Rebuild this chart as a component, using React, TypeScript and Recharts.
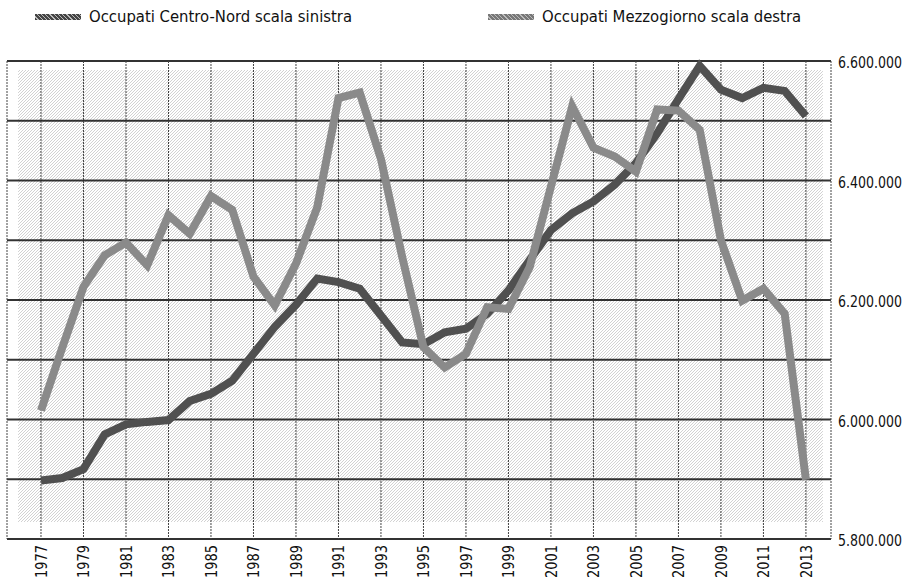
import React from 'react';
import {
  LineChart,
  Line,
  XAxis,
  YAxis,
  CartesianGrid,
  ReferenceArea,
} from 'recharts';

// values
const years = [
  1977, 1978, 1979, 1980, 1981, 1982, 1983, 1984, 1985, 1986, 1987, 1988, 1989,
  1990, 1991, 1992, 1993, 1994, 1995, 1996, 1997, 1998, 1999, 2000, 2001, 2002,
  2003, 2004, 2005, 2006, 2007, 2008, 2009, 2010, 2011, 2012, 2013,
];

// left scale (not labelled in the original)
const centroNord = [
  13992000, 14008000, 14068000, 14300000, 14368000, 14384000, 14396000, 14524000,
  14572000, 14660000, 14840000, 15020000, 15168000, 15344000, 15320000, 15276000,
  15096000, 14916000, 14904000, 14984000, 15008000, 15108000, 15264000, 15468000,
  15668000, 15780000, 15860000, 15972000, 16116000, 16316000, 16544000, 16768000,
  16608000, 16552000, 16620000, 16600000, 16432000,
];

// right scale
const mezzogiorno = [
  6015000, 6120000, 6222000, 6275000, 6296000, 6258000, 6342000, 6311000, 6374000,
  6351000, 6239000, 6191000, 6261000, 6355000, 6538000, 6547000, 6436000, 6272000,
  6121000, 6087000, 6110000, 6188000, 6185000, 6255000, 6390000, 6524000, 6455000,
  6440000, 6415000, 6519000, 6517000, 6485000, 6300000, 6199000, 6219000, 6177000,
  5899000,
];

const yearTicks = [
  1977, 1979, 1981, 1983, 1985, 1987, 1989, 1991, 1993, 1995, 1997, 1999, 2001,
  2003, 2005, 2007, 2009, 2011, 2013,
];
const rightTicks = [
  5800000, 5900000, 6000000, 6100000, 6200000, 6300000, 6400000, 6500000, 6600000,
];
const rightLabelled = [5800000, 6000000, 6200000, 6400000, 6600000];

const data = years.map((year, i) => ({
  year,
  centroNord: centroNord[i],
  mezzogiorno: mezzogiorno[i],
}));

const FONT = '"DejaVu Sans Condensed", "DejaVu Sans", sans-serif';

const fmt = (v: number) => v.toLocaleString('de-DE');

const RightTick = (props: any) => {
  const { y, payload } = props;
  if (!rightLabelled.includes(payload.value)) return null;
  return (
    <text
      x={838}
      y={y + 2}
      dominantBaseline="central"
      fontSize={15}
      textLength={64}
      lengthAdjust="spacingAndGlyphs"
      fill="#111"
      fontFamily={FONT}
    >
      {fmt(payload.value)}
    </text>
  );
};

const YearTick = (props: any) => {
  const { x, payload } = props;
  return (
    <text
      transform={`translate(${x + 6},545) rotate(-90)`}
      textAnchor="end"
      fontSize={16}
      textLength={33}
      lengthAdjust="spacingAndGlyphs"
      fill="#111"
      fontFamily={FONT}
    >
      {payload.value}
    </text>
  );
};

const LegendItem = ({ left, color, label }: { left: number; color: string; label: string }) => (
  <div style={{ position: 'absolute', left, top: 7, display: 'flex', alignItems: 'center' }}>
    <div
      style={{
        width: 46,
        height: 6,
        marginRight: 8,
        background: `repeating-linear-gradient(45deg, ${color} 0 2px, #bbb 2px 3px)`,
      }}
    />
    <span style={{ fontFamily: FONT, fontSize: 16.5, color: '#111' }}>{label}</span>
  </div>
);

export default function App() {
  return (
    <div style={{ position: 'relative', width: 906, height: 579, background: '#fff' }}>
      <style>{`body{margin:0}`}</style>
      <LegendItem left={35} color="#444" label="Occupati Centro-Nord scala sinistra" />
      <LegendItem left={488} color="#777" label="Occupati Mezzogiorno scala destra" />
      <LineChart
        width={906}
        height={579}
        data={data}
        margin={{ top: 61, right: 0, bottom: 0, left: 7 }}
        style={{ position: 'absolute', left: 0, top: 0 }}
      >
        <defs>
          <pattern id="hatch" width="3" height="3" patternUnits="userSpaceOnUse">
            <path d="M0,3 L3,0" stroke="#000" strokeOpacity={0.2} strokeWidth={0.9} />
          </pattern>
        </defs>
        <ReferenceArea
          yAxisId="right"
          x1={1975.92}
          x2={2013.8}
          y1={5828500}
          y2={6585000}
          fill="url(#hatch)"
          fillOpacity={1}
          stroke="none"
          ifOverflow="visible"
        />
        <CartesianGrid
          yAxisId="right"
          horizontal
          vertical={false}
          stroke="#333"
          strokeWidth={2}
        />
        <CartesianGrid
          yAxisId="right"
          horizontal={false}
          vertical
          stroke="#444"
          strokeWidth={1}
          strokeDasharray="2 1"
        />
        <XAxis
          dataKey="year"
          type="number"
          domain={[1975.4, 2014.18]}
          ticks={yearTicks}
          allowDataOverflow
          height={40}
          axisLine={false}
          tickLine={false}
          tick={<YearTick />}
          interval={0}
        />
        <YAxis yAxisId="left" hide domain={[13600000, 16800000]} />
        <YAxis
          yAxisId="right"
          orientation="right"
          width={75}
          domain={[5800000, 6600000]}
          ticks={rightTicks}
          axisLine={false}
          tickLine={false}
          tick={<RightTick />}
          interval={0}
        />
        <Line
          yAxisId="left"
          dataKey="centroNord"
          stroke="#505050"
          strokeWidth={8}
          dot={false}
          type="linear"
          isAnimationActive={false}
        />
        <Line
          yAxisId="right"
          dataKey="mezzogiorno"
          stroke="#8a8a8a"
          strokeWidth={8}
          dot={false}
          type="linear"
          isAnimationActive={false}
        />
      </LineChart>
    </div>
  );
}
